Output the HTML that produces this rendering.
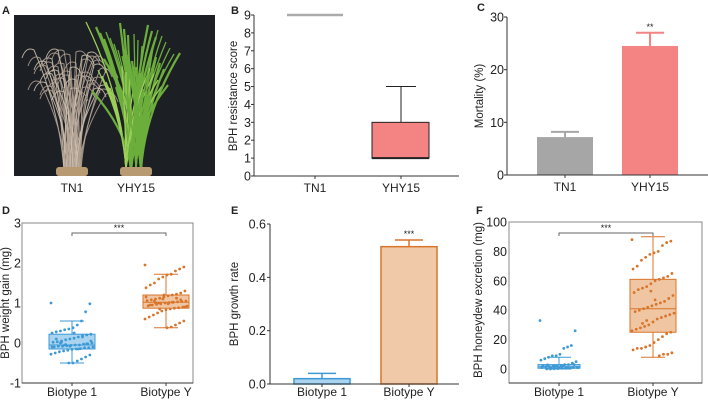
<!DOCTYPE html>
<html><head><meta charset="utf-8"><style>
html,body{margin:0;padding:0;background:#fff;}
svg{display:block;font-family:"Liberation Sans",Arial,sans-serif;}
</style></head><body>
<svg id="fig" width="708" height="400" viewBox="0 0 708 400">
<g id="photo">
<rect x="14" y="15" width="201" height="161" fill="#1c1f24"/>
</g>
<g id="plot"></g>
</svg>
<script>
// ---- data ----
const bCats=["TN1","YHY15"];
const bTN1Value=9;
const bYHYBox=[1,1,3,5];
const cCats=["TN1","YHY15"];
const cMeans=[7.2,24.5];
const cErr=[1.0,2.5];
const dCats=["Biotype 1","Biotype Y"];
const dBox1=[-0.5,-0.15,-0.05,0.22,0.55];
const dBox2=[0.38,0.87,1.02,1.2,1.72];
const dPts1=[1.0,0.98,0.78,0.55,0.45,0.38,0.35,0.33,0.3,0.28,0.25,0.22,0.2,0.18,0.15,0.12,0.1,0.08,0.05,0.03,0.02,0.0,-0.02,-0.03,-0.05,-0.05,-0.06,-0.07,-0.08,-0.08,-0.1,-0.1,-0.12,-0.12,-0.14,-0.15,-0.16,-0.18,-0.2,-0.22,-0.25,-0.28,-0.3,-0.35,-0.4,-0.45,-0.5,-0.5,-0.05,0.0,0.1,-0.1,0.05,-0.02,0.15,-0.15,0.25,-0.08,-0.04,0.02];
const dPts2=[1.95,1.9,1.85,1.8,1.72,1.7,1.65,1.6,1.5,1.45,1.38,1.3,1.25,1.22,1.2,1.18,1.15,1.12,1.1,1.08,1.06,1.05,1.04,1.03,1.02,1.01,1.0,0.98,0.97,0.95,0.93,0.92,0.9,0.88,0.87,0.85,0.83,0.8,0.75,0.7,0.65,0.6,0.55,0.5,0.45,0.4,0.38,1.1,1.0,1.05,0.95,1.15,0.9,1.08,1.12,1.02,0.98,1.2,0.85,1.0];
const eCats=["Biotype 1","Biotype Y"];
const eMeans=[0.02,0.515];
const eErr=[0.02,0.025];
const fCats=["Biotype 1","Biotype Y"];
const fBox1=[0,0.5,1.5,3,8];
const fBox2=[8,25,41,61,90];
const fPts1=[33,26,16,15,14,10,9,9,8,7,6,5,4,3,3,2.5,2,2,1.5,1.5,1,1,1,0.8,0.5,0.5,0.3,0.2,0,0,2,1,3,0.5,1.2,2.2,0.7,1.8,0.4,2.8];
const fPts2=[88,87,86,84,80,79,78,76,74,70,68,65,63,62,61,60,58,56,55,54,52,50,48,46,45,44,43,42,41,40,39,38,37,36,35,34,32,30,29,28,27,26,25,24,22,20,18,16,15,14,14,13,11,10,10,9,47,53,33,31];
const bTicks=[0,1,2,3,4,5,6,7,8,9];
const cTicks=[0,10,20,30];
const dTicks=[-1,0,1,2,3];
const eTicks=["0.0","0.2","0.4","0.6"];
const fTicks=[0,20,40,60,80,100];

const NS="http://www.w3.org/2000/svg";
const root=document.getElementById('plot');
function mk(tag,attrs,parent,txt){const e=document.createElementNS(NS,tag);for(const k in attrs)e.setAttribute(k,attrs[k]);if(txt!==undefined)e.textContent=txt;(parent||root).appendChild(e);return e;}
function lin(d0,d1,r0,r1){return v=>r0+(v-d0)/(d1-d0)*(r1-r0);}

// ---- photo plants ----
const ph=document.getElementById('photo');
for(let i=0;i<50;i++){const x0=64+(i*7%18),top=50+(i*13%45),dx=((i*11)%60)-30;
 const p=mk('path',{d:`M${x0} 170 Q${x0+dx*0.15} ${(170+top)/2} ${x0+dx} ${top} q${dx>0?8:-8} -4 ${dx>0?12:-12} 8`,stroke:i%3?'#b3a193':'#cfc3b0','stroke-width':1,fill:'none',opacity:0.85},ph);
 }
for(let i=0;i<55;i++){const x0=126+(i*5%20),top=22+(i*17%70),dx=((i*13)%80)-40;
 const p=mk('path',{d:`M${x0} 170 Q${x0+dx*0.1} ${(170+top)/2} ${x0+dx} ${top}`,stroke:i%4?'#6cae3c':'#9ccf58','stroke-width':i%2?2.2:1.3,fill:'none'},ph);
 }
for(const [px] of [[56],[120]]){const p=mk('rect',{x:px,y:167,width:32,height:9,rx:3,fill:'#b89a72'},ph);
 }
function txt(x,y,s,opt){const o=Object.assign({x:x,y:y,'font-size':12,fill:'#222','text-anchor':'middle'},opt||{});return mk('text',o,null,s);}
let t;
t=txt(72,192,"TN1");
t=txt(136,192,"YHY15");

[["A",2,14],["B",231,14],["C",477,11],["D",2,214],["E",231,214],["F",476,214]].forEach(l=>{
 const e=txt(l[1],l[2],l[0],{'text-anchor':'start','font-weight':'bold','font-size':11});
 });

function axisY(x,y0,y1,ticks,sc,title,tx,cy,off,tickLen){
 const g=mk('g',{});
 mk('line',{x1:x,y1:y0,x2:x,y2:y1,stroke:'#333','stroke-width':1},g);
 ticks.forEach(v=>{const y=sc(+v);if(tickLen)mk('line',{x1:x-tickLen,y1:y,x2:x,y2:y,stroke:'#333'},g);
  const l=mk('text',{x:x-off,y:y+4.5,'font-size':12.5,fill:'#222','text-anchor':'end'},g,String(v));
  });
 const tt=mk('text',{x:tx,y:cy,'font-size':11.5,fill:'#222','text-anchor':'middle',transform:`rotate(-90 ${tx} ${cy})`},g,title);
 
}
function axisX(x0,x1,y,cats,xs,lo){
 const g=mk('g',{});
 mk('line',{x1:x0,y1:y,x2:x1,y2:y,stroke:'#333'},g);
 cats.forEach((c,i)=>{mk('line',{x1:xs[i],y1:y,x2:xs[i],y2:y+3,stroke:'#333'},g);
  const l=mk('text',{x:xs[i],y:y+(lo||16),'font-size':12,fill:'#222','text-anchor':'middle'},g,c);
  });
}
function frame(x0,y0,x1,y1){const r=mk('rect',{x:x0,y:y0,width:x1-x0,height:y1-y0,fill:'none',stroke:'#888','stroke-width':1});}

// ---- B ----
const yB=lin(0,9,176,15);const bx=[315,401];
axisY(254,15,176,bTicks,yB,"BPH resistance score",237,96,3,3);
axisX(254,459,176,bCats,bx);
t=mk('line',{x1:287,x2:343,y1:yB(bTN1Value),y2:yB(bTN1Value),stroke:'#aaa','stroke-width':2.5});
t=mk('line',{x1:bx[1],x2:bx[1],y1:yB(bYHYBox[2]),y2:yB(bYHYBox[3]),stroke:'#222'});
t=mk('line',{x1:bx[1]-15,x2:bx[1]+15,y1:yB(bYHYBox[3]),y2:yB(bYHYBox[3]),stroke:'#222'});
t=mk('rect',{x:372,width:57,y:yB(bYHYBox[2]),height:yB(bYHYBox[1])-yB(bYHYBox[2]),fill:'#f48484',stroke:'#222'});
t=mk('line',{x1:372,x2:429,y1:yB(bYHYBox[1]),y2:yB(bYHYBox[1]),stroke:'#222','stroke-width':2});

// ---- C ----
const yC=lin(0,30,175,17);const cx=[565,650];const cCol=['#a6a6a6','#f48484'];
axisY(507,17,175,cTicks,yC,"Mortality (%)",483,96,3,3);
cMeans.forEach((m,i)=>{
 t=mk('line',{x1:cx[i],x2:cx[i],y1:yC(m),y2:yC(m+cErr[i]),stroke:cCol[i],'stroke-width':2});
 t=mk('line',{x1:cx[i]-14,x2:cx[i]+14,y1:yC(m+cErr[i]),y2:yC(m+cErr[i]),stroke:cCol[i],'stroke-width':2});
 t=mk('rect',{x:cx[i]-28,width:56,y:yC(m),height:yC(0)-yC(m),fill:cCol[i]});
});
axisX(507,708,175,cCats,cx);
t=txt(cx[1],yC(cMeans[1]+cErr[1])-3,"**",{'font-size':9});

function boxplot(xc,w,box,pts,sc,stroke,fill,name){
 const g=mk('g',{});
 mk('line',{x1:xc,x2:xc,y1:sc(box[0]),y2:sc(box[4]),stroke:stroke},g);
 [box[0],box[4]].forEach(v=>mk('line',{x1:xc-12,x2:xc+12,y1:sc(v),y2:sc(v),stroke:stroke},g));
 mk('rect',{x:xc-w/2,width:w,y:sc(box[3]),height:sc(box[1])-sc(box[3]),fill:fill,stroke:stroke},g);
 mk('line',{x1:xc-w/2,x2:xc+w/2,y1:sc(box[2]),y2:sc(box[2]),stroke:stroke},g);
 pts.forEach((v,i)=>{const jx=((i*37)%41-20)/20*(w/2-2);
  const c=mk('circle',{cx:xc+jx,cy:sc(v),r:1.4,fill:stroke},g);
  });
}
function bracket(x0,x1,y,s){const g=mk('g',{});
 mk('path',{d:`M${x0} ${y+3} V${y} H${x1} V${y+3}`,stroke:'#666',fill:'none'},g);
 mk('text',{x:(x0+x1)/2,y:y-2,'font-size':9,'text-anchor':'middle',fill:'#222'},g,s);}

// ---- D ----
const yD=lin(-1,3,383,223);const dx=[72,166];
axisY(22,223,383,dTicks,yD,"BPH weight gain (mg)",9,303,1,0);
frame(22,223,193,383);
axisX(22,193,383,dCats,dx,13);
boxplot(dx[0],46,dBox1,dPts1,yD,'#3d9ad6','#a9d3ef','box-biotype-1');
boxplot(dx[1],46,dBox2,dPts2,yD,'#d8752b','#f0c6a2','box-biotype-y');
bracket(dx[0],dx[1],233,"***");

// ---- E ----
const yE=lin(0,0.6,384,224);const ex=[322,409];const eS=['#3d9ad6','#d8752b'],eF=['#a9d3ef','#f0c9a8'];
axisY(270,224,384,eTicks,yE,"BPH growth rate",238,304,4,3);
eMeans.forEach((m,i)=>{
 t=mk('line',{x1:ex[i],x2:ex[i],y1:yE(m),y2:yE(m+eErr[i]),stroke:eS[i],'stroke-width':1.5});
 t=mk('line',{x1:ex[i]-14,x2:ex[i]+14,y1:yE(m+eErr[i]),y2:yE(m+eErr[i]),stroke:eS[i],'stroke-width':1.5});
 t=mk('rect',{x:ex[i]-28,width:56,y:yE(m),height:yE(0)-yE(m),fill:eF[i],stroke:eS[i],'stroke-width':1.5});
});
axisX(270,459,384,eCats,ex,12);
t=txt(ex[1],yE(eMeans[1]+eErr[1])-3,"***",{'font-size':9});

// ---- F ----
const yF=lin(0,100,369,222);const fx=[559,653];
axisY(509,222,383,fTicks,yF,"BPH honeydew excretion (mg)",482,300,2,0);
frame(509,222,702,383);
axisX(509,702,383,fCats,fx,13);
boxplot(fx[0],42,fBox1,fPts1,yF,'#3d9ad6','#a9d3ef','box-biotype-1');
boxplot(fx[1],46,fBox2,fPts2,yF,'#d8752b','#f0c6a2','box-biotype-y');
bracket(fx[0],fx[1],233,"***");
</script>
</body></html>
